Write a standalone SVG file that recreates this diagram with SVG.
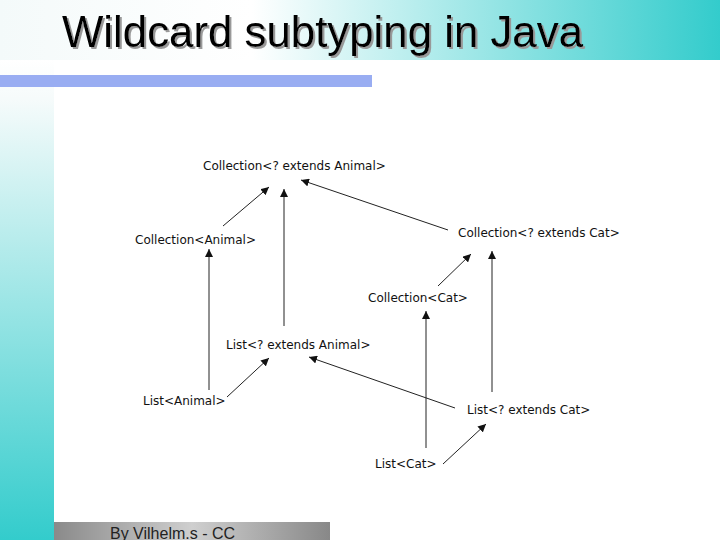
<svg xmlns="http://www.w3.org/2000/svg" width="720" height="540" viewBox="0 0 720 540">
<defs>
<linearGradient id="titleGrad" x1="0" y1="0" x2="1" y2="0">
<stop offset="0" stop-color="#f4fafa"/>
<stop offset="0.35" stop-color="#ffffff"/>
<stop offset="1" stop-color="#33cccc"/>
</linearGradient>
<linearGradient id="sideGrad" x1="0" y1="0" x2="0" y2="1">
<stop offset="0" stop-color="#ffffff"/>
<stop offset="0.08" stop-color="#f6fbfb"/>
<stop offset="1" stop-color="#33cccc"/>
</linearGradient>
<linearGradient id="footGrad" x1="0" y1="0" x2="1" y2="0">
<stop offset="0" stop-color="#8a8a8a"/>
<stop offset="0.5" stop-color="#cfcfcf"/>
<stop offset="1" stop-color="#888888"/>
</linearGradient>
<filter id="shadow" x="-5%" y="-20%" width="110%" height="140%">
<feDropShadow dx="2" dy="2" stdDeviation="0.3" flood-color="#999999" flood-opacity="1"/>
</filter>
<marker id="ah" viewBox="0 0 10 10" refX="10" refY="5" markerWidth="8" markerHeight="8" markerUnits="userSpaceOnUse" orient="auto">
<path d="M0,0 L10,5 L0,10 Z" fill="#111"/>
</marker>
<style>
.lbl { font-family: "DejaVu Sans", sans-serif; font-size: 12px; fill: #111; }
.edge { stroke: #222; stroke-width: 1; fill: none; marker-end: url(#ah); }
.title { font-family: "Liberation Sans", Arial, sans-serif; font-size: 45px; }
</style>
</defs>
<rect x="0" y="0" width="720" height="540" fill="#ffffff"/>
<rect x="0" y="60" width="54" height="480" fill="url(#sideGrad)"/>
<rect x="0" y="0" width="720" height="60" fill="url(#titleGrad)"/>
<rect x="0" y="75" width="372" height="12" fill="#99adf2"/>
<g id="title">
<text x="62" y="47" class="title" fill="#000000" filter="url(#shadow)" textLength="521" lengthAdjust="spacingAndGlyphs">Wildcard subtyping in Java</text>
</g>
<g id="footer">
<rect x="54" y="522" width="276" height="18" fill="url(#footGrad)"/>
<text x="110" y="539" font-family="Liberation Sans, Arial, sans-serif" font-size="16" fill="#222">By Vilhelm.s - CC</text>
</g>
<g id="connectors">
<line class="edge" x1="223" y1="226" x2="269" y2="187"/>
<line class="edge" x1="284" y1="326" x2="284" y2="189"/>
<line class="edge" x1="448" y1="230" x2="301" y2="180"/>
<line class="edge" x1="209" y1="390" x2="209" y2="249"/>
<line class="edge" x1="227" y1="397" x2="269" y2="358"/>
<line class="edge" x1="438" y1="286" x2="471" y2="254"/>
<line class="edge" x1="492" y1="392" x2="492" y2="251"/>
<line class="edge" x1="426" y1="448" x2="426" y2="311"/>
<line class="edge" x1="455" y1="408" x2="309" y2="357"/>
<line class="edge" x1="443" y1="464" x2="486" y2="424"/>
</g>
<g id="n-coll-ext-animal"><text class="lbl" x="203" y="170">Collection&lt;? extends Animal&gt;</text></g>
<g id="n-coll-animal"><text class="lbl" x="135" y="244">Collection&lt;Animal&gt;</text></g>
<g id="n-coll-ext-cat"><text class="lbl" x="458" y="237">Collection&lt;? extends Cat&gt;</text></g>
<g id="n-coll-cat"><text class="lbl" x="368" y="302">Collection&lt;Cat&gt;</text></g>
<g id="n-list-ext-animal"><text class="lbl" x="226" y="349">List&lt;? extends Animal&gt;</text></g>
<g id="n-list-animal"><text class="lbl" x="143" y="405">List&lt;Animal&gt;</text></g>
<g id="n-list-ext-cat"><text class="lbl" x="467" y="414">List&lt;? extends Cat&gt;</text></g>
<g id="n-list-cat"><text class="lbl" x="375" y="468">List&lt;Cat&gt;</text></g>
</svg>
